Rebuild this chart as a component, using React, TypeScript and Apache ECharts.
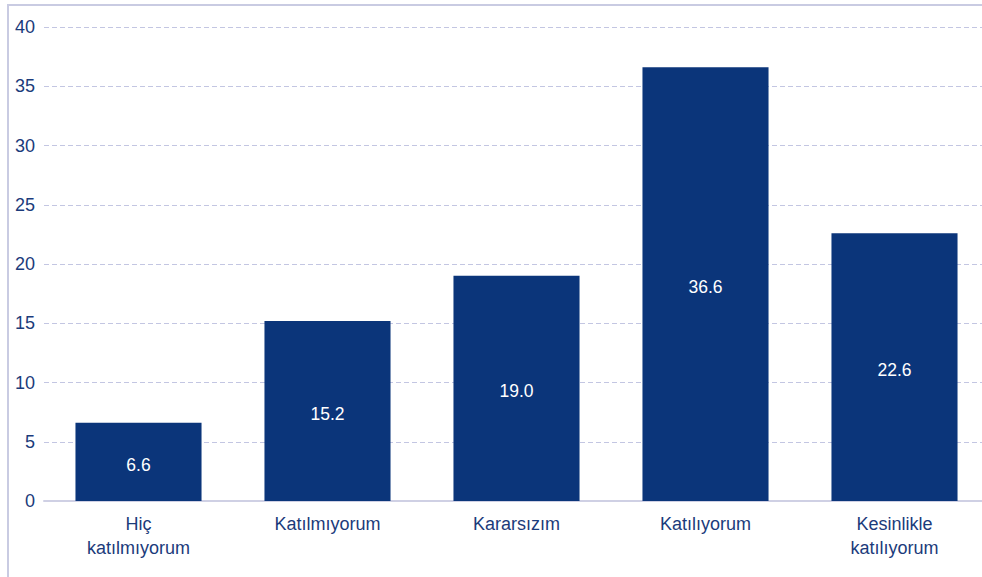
import React, { useEffect, useRef } from "react";
import * as echarts from "echarts";

const categories = ["Hiç\nkatılmıyorum", "Katılmıyorum", "Kararsızım", "Katılıyorum", "Kesinlikle\nkatılıyorum"];
const values = [6.6, 15.2, 19.0, 36.6, 22.6];

export default function App() {
  const ref = useRef<HTMLDivElement>(null);
  useEffect(() => {
    if (!ref.current) return;
    const chart = echarts.init(ref.current, null, { renderer: "svg" });
    const textColor = "#1b3b7b";
    chart.setOption({
      animation: false,
      backgroundColor: "#ffffff",
      textStyle: { fontFamily: "Liberation Sans, Arial, sans-serif" },
      graphic: [
        {
          type: "rect",
          shape: { x: 8, y: 5, width: 1100, height: 700 },
          style: { fill: "none", stroke: "#c9cbe2", lineWidth: 2 },
          silent: true,
        },
      ],
      grid: { left: 44, top: 27, width: 945, height: 474, containLabel: false },
      xAxis: {
        type: "category",
        data: categories,
        axisLine: { show: true, lineStyle: { color: "#cfd0e4", width: 2 } },
        axisTick: { show: false },
        axisLabel: {
          color: textColor,
          fontSize: 18,
          lineHeight: 24,
          margin: 11,
          interval: 0,
        },
      },
      yAxis: {
        type: "value",
        min: 0,
        max: 40,
        interval: 5,
        axisLine: { show: false },
        axisTick: { show: false },
        axisLabel: { color: textColor, fontSize: 18, margin: 9 },
        splitLine: {
          show: true,
          lineStyle: { color: "#c3c6e2", type: [5, 3], width: 1 },
        },
      },
      series: [
        {
          type: "bar",
          data: values,
          barWidth: "66.7%",
          itemStyle: { color: "#0b357a" },
          label: {
            show: true,
            position: "inside",
            offset: [0, 3],
            color: "#ffffff",
            fontSize: 17.5,
            formatter: (p: any) => Number(p.value).toFixed(1),
          },
        },
      ],
    });
    return () => chart.dispose();
  }, []);
  return (
    <div style={{ position: "fixed", left: 0, top: 0, width: 982, height: 577, overflow: "hidden" }}>
      <div ref={ref} style={{ position: "absolute", left: 0, top: 0, width: 1000, height: 577 }} />
    </div>
  );
}
